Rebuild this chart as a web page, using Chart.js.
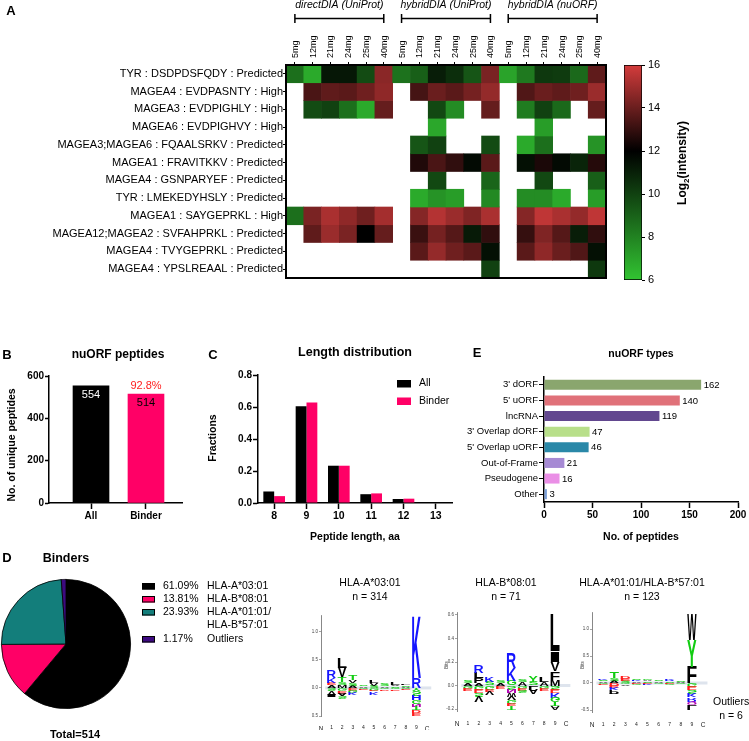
<!DOCTYPE html>
<html><head><meta charset="utf-8">
<script src="https://cdn.jsdelivr.net/npm/chart.js@4.4.1/dist/chart.umd.min.js"></script>
<style>
html,body{margin:0;padding:0;background:#fff;}
#wrap{position:relative;width:749px;height:741px;overflow:hidden;background:#fff;}
canvas{position:absolute;}
</style></head><body><div id="wrap">
<canvas id="cA" width="615" height="290" style="left:0;top:0"></canvas>
<canvas id="cCB" width="134" height="245" style="left:615px;top:50px"></canvas>
<canvas id="cB" width="205" height="205" style="left:0;top:340px"></canvas>
<canvas id="cC" width="265" height="205" style="left:205px;top:340px"></canvas>
<canvas id="cE" width="309" height="205" style="left:440px;top:340px"></canvas>
<canvas id="cD" width="312" height="191" style="left:0;top:550px"></canvas>
<canvas id="cL1" width="130" height="160" style="left:312px;top:570px"></canvas>
<canvas id="cL2" width="133" height="160" style="left:442px;top:570px"></canvas>
<canvas id="cL3" width="174" height="160" style="left:575px;top:570px"></canvas>
</div>
<script>
// ---------------- DATA ----------------
const hmGroups = ['directDIA (UniProt)', 'hybridDIA (UniProt)', 'hybridDIA (nuORF)'];
const hmAmounts = ['5mg', '12mg', '21mg', '24mg', '25mg', '40mg'];
const hmColumns = hmGroups.flatMap(() => hmAmounts);
const hmRows = [
  'TYR : DSDPDSFQDY : Predicted',
  'MAGEA4 : EVDPASNTY : High',
  'MAGEA3 : EVDPIGHLY : High',
  'MAGEA6 : EVDPIGHVY : High',
  'MAGEA3;MAGEA6 : FQAALSRKV : Predicted',
  'MAGEA1 : FRAVITKKV : Predicted',
  'MAGEA4 : GSNPARYEF : Predicted',
  'TYR : LMEKEDYHSLY : Predicted',
  'MAGEA1 : SAYGEPRKL : High',
  'MAGEA12;MAGEA2 : SVFAHPRKL : Predicted',
  'MAGEA4 : TVYGEPRKL : Predicted',
  'MAGEA4 : YPSLREAAL : Predicted'
];
const _ = null;
const hmValues = [
  [8.6, 6.8, 11.3, 11.3, 9.7, 14.6,   8.5, 9.1, 11.1, 10.6, 9.4, 14.3,   7.0, 8.3, 10.3, 10.2, 8.8, 13.8],
  [_, 13.4, 13.8, 13.7, 14.1, 14.7,   _, 13.3, 14.0, 13.7, 14.2, 14.8,   _, 13.5, 14.0, 13.8, 14.1, 14.9],
  [_, 9.7, 10.0, 8.6, 6.8, 13.9,      _, _, 9.8, 7.7, _, 13.9,           _, 8.2, 10.0, 8.8, _, 13.9],
  [_, _, _, _, _, _,                  _, _, 6.9, _, _, _,                _, _, 7.2, _, _, _],
  [_, _, _, _, _, _,                  _, 9.4, 10.0, _, _, 9.7,           _, 6.8, 8.6, _, _, 7.5],
  [_, _, _, _, _, _,                  _, 12.6, 13.4, 12.9, 11.7, 13.7,   _, 11.5, 12.5, 11.7, 10.9, 12.7],
  [_, _, _, _, _, _,                  _, _, 9.8, _, _, 8.9,              _, _, 9.8, _, _, 9.1],
  [_, _, _, _, _, _,                  _, 6.8, 7.5, 7.2, _, 7.8,          _, 7.7, 7.7, 6.8, _, 7.2],
  [8.6, 14.3, 15.2, 14.7, 14.1, 15.1, _, 14.5, 15.4, 14.9, 14.4, 15.2,   _, 14.5, 15.6, 15.2, 14.8, 15.6],
  [_, 13.8, 14.9, 14.3, 12.0, 13.9,   _, 13.1, 14.2, 13.6, 11.2, 12.9,   _, 13.0, 14.4, 13.6, 11.1, 12.9],
  [_, _, _, _, _, _,                  _, 13.7, 14.8, 14.1, 13.7, 11.5,   _, 13.7, 14.7, 14.0, 13.5, 11.5],
  [_, _, _, _, _, _,                  _, _, _, _, _, 10.0,               _, _, _, _, _, 10.3]
];
const cbMin = 6, cbMax = 16, cbStep = 2;
const cbStopValues = [6, 12, 16];
const cbStopColors = [[50, 196, 50], [0, 0, 0], [212, 60, 60]];

const bCategories = ['All', 'Binder'];
const bCounts = [554, 514];
const bColors = ['#000000', '#ff0066'];
const bLabelColors = ['#ffffff', '#000000'];

const cLengths = ['8', '9', '10', '11', '12', '13'];
const cAll = [0.072, 0.605, 0.233, 0.055, 0.025, 0];
const cBinder = [0.043, 0.628, 0.233, 0.060, 0.027, 0];

const eTypes = ["3' dORF", "5' uORF", 'lncRNA', "3' Overlap dORF", "5' Overlap uORF", 'Out-of-Frame', 'Pseudogene', 'Other'];
const eCounts = [162, 140, 119, 47, 46, 21, 16, 3];
const eColors = ['#8aa66e', '#e07179', '#62478f', '#b8df8a', '#2a88a8', '#a68ad4', '#ea8fe6', '#7b9fd8'];

const dLabels = ['HLA-A*03:01', 'HLA-B*08:01', 'HLA-A*01:01/\nHLA-B*57:01', 'Outliers'];
const dPercents = [61.09, 13.81, 23.93, 1.17];
const dColors = ['#000000', '#ff0066', '#137e7b', '#3d0a80'];

const logoTitles = [['HLA-A*03:01', 'n = 314'], ['HLA-B*08:01', 'n = 71'], ['HLA-A*01:01/HLA-B*57:01', 'n = 123']];
const outlierTitle = ['Outliers', 'n = 6'];
const logo1Ticks = [-0.5, 0, 0.5, 1.0];
const logo2Ticks = [-0.2, 0, 0.2, 0.4, 0.6];
const logo3Ticks = [-0.5, 0, 0.5, 1.0];
const logo1Up = [
  [['A', .05], ['E', .04], ['K', .09], ['R', .14]],
  [['M', .05], ['S', .05], ['T', .09], ['V', .17], ['L', .19]],
  [['A', .04], ['S', .05], ['V', .05], ['T', .08]],
  [['A', .03], ['S', .02]],
  [['S', .04], ['V', .04], ['L', .05]],
  [['A', .03], ['S', .04]],
  [['S', .03], ['V', .03], ['L', .05]],
  [['A', .02], ['S', .03], ['L', .03]],
  [['R', .18], ['K', 1.12]]
];
const logo1Down = [
  [['S', .05], ['V', .06], ['I', .04]],
  [['G', .05], ['E', .04], ['A', .05], ['S', .04]],
  [['E', .04], ['G', .04], ['K', .04]],
  [['G', .02], ['E', .02]],
  [['G', .04], ['E', .03], ['K', .04]],
  [['G', .03], ['D', .02]],
  [['G', .03], ['E', .02]],
  [['G', .02], ['E', .02]],
  [['Y', .05], ['S', .08], ['H', .08], ['G', .07], ['N', .05], ['T', .07], ['D', .04], ['E', .05]]
];
const logo2Up = [
  [['A', .02], ['S', .02]],
  [['A', .02], ['P', .04], ['L', .05], ['R', .06]],
  [['S', .03], ['K', .04]],
  [['A', .02], ['S', .02]],
  [['G', .04], ['K', .11], ['R', .13]],
  [['A', .03], ['S', .02]],
  [['S', .03], ['Y', .05]],
  [['A', .03], ['L', .04]],
  [['M', .05], ['F', .07], ['V', .08], ['I', .09], ['L', .31]]
];
const logo2Down = [
  [['G', .02], ['E', .02]],
  [['G', .03], ['E', .03], ['S', .03], ['V', .05]],
  [['G', .03], ['E', .02], ['V', .03]],
  [['E', .02]],
  [['S', .03], ['N', .03], ['W', .03], ['V', .03], ['G', .03], ['E', .02], ['T', .03]],
  [['G', .02], ['E', .02], ['S', .02]],
  [['L', .03], ['A', .04]],
  [['G', .02], ['E', .02]],
  [['S', .03], ['E', .03], ['K', .04], ['G', .04], ['T', .03], ['A', .03]]
];
const logo3Up = [
  [['A', .03], ['S', .03], ['K', .02]],
  [['A', .04], ['S', .05], ['T', .11]],
  [['S', .04], ['E', .04], ['D', .05]],
  [['A', .03], ['K', .03], ['S', .02]],
  [['S', .03], ['A', .03], ['G', .02]],
  [['A', .03], ['S', .02]],
  [['S', .03], ['R', .03], ['K', .03]],
  [['A', .02], ['S', .03]],
  [['F', .30], ['Y', .50], ['W', .46]]
];
const logo3Down = [
  [['G', .02], ['E', .02]],
  [['D', .04], ['E', .04], ['K', .05], ['P', .06], ['L', .03]],
  [['G', .03], ['V', .03]],
  [['E', .02], ['G', .02]],
  [['E', .02], ['K', .02]],
  [['G', .02]],
  [['E', .02], ['G', .02]],
  [['G', .02]],
  [['G', .06], ['E', .07], ['S', .06], ['K', .08], ['R', .06], ['Q', .07], ['L', .10]]
];
const aaColors = {K: '#1515ff', R: '#1515ff', H: '#1515ff', D: '#ff1a1a', E: '#ff1a1a',
  S: '#11cc11', T: '#11cc11', G: '#11cc11', Y: '#11cc11', C: '#11cc11', N: '#b000b0', Q: '#b000b0'};

// ---------------- HELPERS ----------------
const FAM = '"Liberation Sans", Arial, Helvetica, sans-serif';
function fnt(sz, bold, italic) { return (italic ? 'italic ' : '') + (bold ? 'bold ' : '') + sz + 'px ' + FAM; }
Chart.defaults.font.family = FAM;
Chart.defaults.color = '#000';
Chart.defaults.animation = false;
Chart.defaults.plugins.legend.display = false;
Chart.defaults.plugins.tooltip.enabled = false;
Chart.defaults.responsive = false;
Chart.defaults.devicePixelRatio = 1;

function textPlugin(ox, oy, items) {
  return {
    id: 'txt' + Math.random().toString(36).slice(2),
    afterDraw(chart) {
      const ctx = chart.ctx;
      items.forEach(t => {
        ctx.save();
        ctx.font = t.f; ctx.fillStyle = t.c || '#000';
        ctx.textAlign = t.a || 'center'; ctx.textBaseline = 'middle';
        ctx.translate(t.x - ox, t.y - oy);
        if (t.r) ctx.rotate(t.r);
        ctx.fillText(t.t, 0, 0);
        ctx.restore();
      });
    }
  };
}
function rgbStr(c) { return 'rgb(' + c.map(v => Math.round(v)).join(',') + ')'; }
function heatColor(v) {
  if (v == null) return 'rgba(0,0,0,0)';
  v = Math.max(cbMin, Math.min(cbMax, v));
  const i = v <= cbStopValues[1] ? 0 : 1;
  const t = (v - cbStopValues[i]) / (cbStopValues[i + 1] - cbStopValues[i]);
  const a = cbStopColors[i], b = cbStopColors[i + 1];
  return rgbStr(a.map((av, k) => av + (b[k] - av) * t));
}
const axisGrid = (len, w) => ({display: true, drawOnChartArea: false, color: '#000', tickColor: '#000', tickLength: len, tickWidth: w, offset: false});

// ---------------- A: HEATMAP ----------------
const hmDecor = {
  id: 'hmDecor',
  afterDraw(chart) {
    const {ctx, chartArea: ca, scales: {x}} = chart;
    ctx.save();
    ctx.strokeStyle = '#000'; ctx.lineWidth = 2;
    ctx.strokeRect(ca.left, ca.top, ca.width, ca.height);
    ctx.font = fnt(9); ctx.fillStyle = '#000'; ctx.textAlign = 'left'; ctx.textBaseline = 'middle';
    hmColumns.forEach((lab, i) => {
      ctx.save();
      ctx.translate(x.getPixelForValue(i) + 0.5, ca.top - 7);
      ctx.rotate(-Math.PI / 2);
      ctx.fillText(lab, 0, 0);
      ctx.restore();
    });
    ctx.lineWidth = 1.5;
    hmGroups.forEach((g, gi) => {
      const x1 = x.getPixelForValue(gi * hmAmounts.length);
      const x2 = x.getPixelForValue(gi * hmAmounts.length + hmAmounts.length - 1);
      const yb = 18.5;
      ctx.beginPath();
      ctx.moveTo(x1, yb); ctx.lineTo(x2, yb);
      ctx.moveTo(x1, yb - 4.5); ctx.lineTo(x1, yb + 4.5);
      ctx.moveTo(x2, yb - 4.5); ctx.lineTo(x2, yb + 4.5);
      ctx.stroke();
      ctx.font = fnt(10.5, false, true); ctx.fillStyle = '#000';
      ctx.textAlign = 'center'; ctx.textBaseline = 'middle';
      ctx.fillText(g, (x1 + x2) / 2, 5.5);
    });
    ctx.restore();
  }
};
new Chart(document.getElementById('cA'), {
  type: 'bar',
  data: {
    labels: hmColumns,
    datasets: hmRows.map((name, r) => ({
      label: name,
      data: hmValues[r].map(v => v == null ? null : [r, r + 1]),
      backgroundColor: hmValues[r].map(heatColor),
      borderWidth: 0, barPercentage: 1, categoryPercentage: 1, grouped: false
    }))
  },
  options: {
    layout: {padding: {left: 0, top: 0, right: 9, bottom: 12}},
    scales: {
      x: {type: 'category', position: 'top', offset: true,
        grid: axisGrid(3, 1), border: {display: false},
        ticks: {display: false, autoSkip: false},
        afterFit: s => { s.height = 65; }},
      y: {type: 'linear', min: 0, max: hmRows.length, reverse: true,
        afterBuildTicks: s => { s.ticks = hmRows.map((_, i) => ({value: i + 0.5})); },
        ticks: {autoSkip: false, font: {size: 11}, padding: 0, callback: (v, i) => hmRows[i]},
        grid: axisGrid(3, 1), border: {display: false},
        afterFit: s => { s.width = 286; }}
    }
  },
  plugins: [hmDecor, textPlugin(0, 0, [{t: 'A', x: 11, y: 11, f: fnt(13, true)}])]
});

// ---------------- A: COLOUR BAR ----------------
const cbTitle = {
  id: 'cbTitle',
  afterDraw(chart) {
    const ctx = chart.ctx;
    ctx.save();
    ctx.translate(683 - 615, 163 - 50);
    ctx.rotate(-Math.PI / 2);
    ctx.fillStyle = '#000'; ctx.textBaseline = 'middle'; ctx.textAlign = 'left';
    const f1 = fnt(12, true), f2 = fnt(8, true);
    ctx.font = f1; const w1 = ctx.measureText('Log').width, w3 = ctx.measureText('(intensity)').width;
    ctx.font = f2; const w2 = ctx.measureText('2').width;
    let x = -(w1 + w2 + w3) / 2;
    ctx.font = f1; ctx.fillText('Log', x, 0); x += w1;
    ctx.font = f2; ctx.fillText('2', x, 4); x += w2;
    ctx.font = f1; ctx.fillText('(intensity)', x, 0);
    ctx.restore();
  }
};
new Chart(document.getElementById('cCB'), {
  type: 'bar',
  data: {labels: [''], datasets: [{
    data: [[cbMin, cbMax]],
    backgroundColor: c => {
      const ch = c.chart, y = ch.scales.y;
      if (!ch.chartArea || !y) return '#000';
      const g = ch.ctx.createLinearGradient(0, y.getPixelForValue(cbMin), 0, y.getPixelForValue(cbMax));
      cbStopValues.forEach((v, i) => g.addColorStop((v - cbMin) / (cbMax - cbMin), rgbStr(cbStopColors[i])));
      return g;
    },
    borderColor: '#000', borderWidth: 1, borderSkipped: false, barPercentage: 1, categoryPercentage: 1
  }]},
  options: {
    layout: {padding: {left: 9, top: 15, right: 0, bottom: 15}},
    scales: {
      x: {display: false},
      y: {position: 'right', min: cbMin, max: cbMax,
        ticks: {stepSize: cbStep, font: {size: 11}, padding: 3},
        grid: axisGrid(3, 1), border: {display: false},
        afterFit: s => { s.width = 107; }}
    }
  },
  plugins: [cbTitle]
});

// ---------------- B ----------------
const bLabels = {
  id: 'bLabels',
  afterDatasetsDraw(chart) {
    const ctx = chart.ctx, meta = chart.getDatasetMeta(0);
    ctx.save(); ctx.textAlign = 'center'; ctx.textBaseline = 'middle';
    meta.data.forEach((bar, i) => {
      ctx.font = fnt(11); ctx.fillStyle = bLabelColors[i];
      ctx.fillText(String(bCounts[i]), bar.x, bar.y + 9);
      if (i > 0) {
        ctx.fillStyle = '#ff2020';
        ctx.fillText((bCounts[i] / bCounts[0] * 100).toFixed(1) + '%', bar.x, bar.y - 8);
      }
    });
    ctx.restore();
  }
};
new Chart(document.getElementById('cB'), {
  type: 'bar',
  data: {datasets: [{data: bCategories.map((c, i) => ({x: i, y: bCounts[i]})), backgroundColor: bColors, barThickness: 36}]},
  options: {
    layout: {padding: {left: 0, top: 36, right: 23, bottom: 0}},
    scales: {
      x: {type: 'linear', offset: false, min: -0.764, max: 1.655, bounds: 'ticks',
        afterBuildTicks: s => { s.ticks = bCategories.map((_, i) => ({value: i})); },
        ticks: {callback: (v, i) => bCategories[i], font: {size: 10, weight: 'bold'}, padding: 1},
        grid: axisGrid(6, 1.5), border: {color: '#000', width: 1.5},
        afterFit: s => { s.height = 42; }},
      y: {min: 0, max: 600, ticks: {stepSize: 200, font: {size: 10, weight: 'bold'}, padding: 1},
        grid: axisGrid(4, 1.5), border: {color: '#000', width: 1.5},
        afterFit: s => { s.width = 49; }}
    }
  },
  plugins: [bLabels, textPlugin(0, 340, [
    {t: 'B', x: 7, y: 355, f: fnt(13, true)},
    {t: 'nuORF peptides', x: 118, y: 355, f: fnt(12, true)},
    {t: 'No. of unique peptides', x: 12, y: 445, f: fnt(10.5, true), r: -Math.PI / 2}
  ])]
});

// ---------------- C ----------------
const cLegend = {
  id: 'cLegend',
  afterDraw(chart) {
    const ctx = chart.ctx;
    ctx.save(); ctx.textBaseline = 'middle'; ctx.textAlign = 'left'; ctx.font = fnt(10.5);
    chart.data.datasets.forEach((ds, i) => {
      const y = 383.5 + i * 17.5 - 340;
      ctx.fillStyle = ds.backgroundColor;
      ctx.fillRect(397 - 205, y - 3.5, 14, 7.5);
      ctx.fillStyle = '#000';
      ctx.fillText(ds.label, 419 - 205, y);
    });
    ctx.restore();
  }
};
new Chart(document.getElementById('cC'), {
  type: 'bar',
  data: {labels: cLengths, datasets: [
    {label: 'All', data: cAll, backgroundColor: '#000000'},
    {label: 'Binder', data: cBinder, backgroundColor: '#ff0066'}
  ]},
  options: {
    datasets: {bar: {categoryPercentage: 0.67, barPercentage: 1}},
    layout: {padding: {left: 0, top: 35, right: 18, bottom: 0}},
    scales: {
      x: {ticks: {font: {size: 10.5, weight: 'bold'}, padding: 1},
        grid: axisGrid(6, 1.5), border: {color: '#000', width: 1.5},
        afterFit: s => { s.height = 42; }},
      y: {min: 0, max: 0.8, ticks: {stepSize: 0.2, callback: v => v.toFixed(1), font: {size: 10, weight: 'bold'}, padding: 1},
        grid: axisGrid(5, 1.5), border: {color: '#000', width: 1.5},
        afterFit: s => { s.width = 53; }}
    }
  },
  plugins: [cLegend, textPlugin(205, 340, [
    {t: 'C', x: 213, y: 355, f: fnt(13, true)},
    {t: 'Length distribution', x: 355, y: 353, f: fnt(12.5, true)},
    {t: 'Fractions', x: 213, y: 438, f: fnt(10.5, true), r: -Math.PI / 2},
    {t: 'Peptide length, aa', x: 355, y: 537, f: fnt(10.5, true)}
  ])]
});

// ---------------- E ----------------
const eLabels = {
  id: 'eLabels',
  afterDatasetsDraw(chart) {
    const ctx = chart.ctx, meta = chart.getDatasetMeta(0);
    ctx.save(); ctx.textAlign = 'left'; ctx.textBaseline = 'middle'; ctx.font = fnt(9.5); ctx.fillStyle = '#000';
    meta.data.forEach((bar, i) => ctx.fillText(String(eCounts[i]), bar.x + 2.5, bar.y + 0.5));
    ctx.restore();
  }
};
new Chart(document.getElementById('cE'), {
  type: 'bar',
  data: {labels: eTypes, datasets: [{data: eCounts, backgroundColor: eColors, barPercentage: 0.64, categoryPercentage: 1}]},
  options: {
    indexAxis: 'y',
    layout: {padding: {left: 0, top: 37, right: 11, bottom: 0}},
    scales: {
      x: {min: 0, max: 200, ticks: {stepSize: 50, font: {size: 10, weight: 'bold'}, padding: 1},
        grid: axisGrid(6, 1.5), border: {color: '#000', width: 1.5},
        afterFit: s => { s.height = 43; }},
      y: {ticks: {font: {size: 9.5}, padding: 1, autoSkip: false},
        grid: axisGrid(5, 1), border: {color: '#000', width: 1.5},
        afterFit: s => { s.width = 104; }}
    }
  },
  plugins: [eLabels, textPlugin(440, 340, [
    {t: 'E', x: 477, y: 353, f: fnt(13, true)},
    {t: 'nuORF types', x: 641, y: 354, f: fnt(10.5, true)},
    {t: 'No. of peptides', x: 641, y: 537, f: fnt(10.5, true)}
  ])]
});

// ---------------- D: PIE ----------------
const dLegend = {
  id: 'dLegend',
  afterDraw(chart) {
    const ctx = chart.ctx, oy = 550;
    ctx.save(); ctx.textBaseline = 'middle'; ctx.textAlign = 'left'; ctx.font = fnt(10.5);
    let y = 586;
    dLabels.forEach((lab, i) => {
      ctx.fillStyle = dColors[i];
      ctx.fillRect(142, y - oy - 3, 13, 6.5);
      ctx.strokeStyle = '#000'; ctx.lineWidth = 1;
      ctx.strokeRect(142.5, y - oy - 2.5, 12, 5.5);
      ctx.fillStyle = '#000';
      ctx.fillText(dPercents[i].toFixed(2) + '%', 163, y - oy);
      const lines = lab.split('\n');
      lines.forEach((ln, k) => ctx.fillText(ln, 207, y - oy + k * 13.5));
      y += 13 + (lines.length - 1) * 14;
    });
    ctx.restore();
  }
};
new Chart(document.getElementById('cD'), {
  type: 'pie',
  data: {labels: dLabels, datasets: [{data: dPercents, backgroundColor: dColors, borderColor: '#000', borderWidth: 0.8}]},
  options: {layout: {padding: {left: 1, top: 29, right: 181, bottom: 32}}},
  plugins: [dLegend, textPlugin(0, 550, [
    {t: 'D', x: 7, y: 558, f: fnt(13, true)},
    {t: 'Binders', x: 66, y: 559, f: fnt(12.5, true)},
    {t: 'Total=' + bCounts[1], x: 75, y: 735, f: fnt(11, true)}
  ])]
});

// ---------------- D: LOGOS ----------------
function drawLetter(ctx, ch, x0, x1, yTop, yBot, flip) {
  if (yBot - yTop < 0.3) return;
  ctx.save();
  ctx.font = 'bold 100px ' + FAM;
  const m = ctx.measureText(ch);
  const w = m.actualBoundingBoxRight + m.actualBoundingBoxLeft;
  const h = m.actualBoundingBoxAscent + m.actualBoundingBoxDescent;
  ctx.fillStyle = aaColors[ch] || '#000';
  ctx.translate(x0, flip ? yTop : yBot);
  ctx.scale((x1 - x0) / w, (flip ? -1 : 1) * (yBot - yTop) / h);
  ctx.fillText(ch, m.actualBoundingBoxLeft, -m.actualBoundingBoxDescent);
  ctx.restore();
}
function logoPlugin(up, down) {
  return {
    id: 'logo' + Math.random().toString(36).slice(2),
    afterDatasetsDraw(chart) {
      const {ctx, scales: {x, y}} = chart;
      const y0 = y.getPixelForValue(0);
      ctx.save();
      ctx.fillStyle = 'rgba(195,205,222,0.55)';
      ctx.fillRect(x.getPixelForValue(0.4), y0 - 1.5, x.getPixelForValue(10.4) - x.getPixelForValue(0.4), 3);
      ctx.restore();
      up.forEach((stack, i) => {
        const p = i + 1, xa = x.getPixelForValue(p - 0.42), xb = x.getPixelForValue(p + 0.42);
        let base = 0;
        stack.forEach(([ch, h]) => { drawLetter(ctx, ch, xa, xb, y.getPixelForValue(base + h), y.getPixelForValue(base), false); base += h; });
      });
      down.forEach((stack, i) => {
        const p = i + 1, xa = x.getPixelForValue(p - 0.42), xb = x.getPixelForValue(p + 0.42);
        let base = 0;
        stack.forEach(([ch, h]) => { drawLetter(ctx, ch, xa, xb, y.getPixelForValue(base), y.getPixelForValue(base - h), true); base -= h; });
      });
    }
  };
}
function makeLogo(id, up, down, yMin, yMax, yTicks, pad, yW, xH, ox, oy, texts) {
  new Chart(document.getElementById(id), {
    type: 'scatter',
    data: {datasets: [{data: []}]},
    options: {
      layout: {padding: pad},
      scales: {
        x: {type: 'linear', min: 0, max: 10,
          afterBuildTicks: s => { s.ticks = Array.from({length: 11}, (_, i) => ({value: i})); },
          ticks: {callback: v => v === 0 ? 'N' : v === 10 ? 'C' : String(v), font: c => ({size: (c.tick && (c.tick.value === 0 || c.tick.value === 10)) ? 6.5 : 5}), padding: 1, autoSkip: false, maxRotation: 0, color: '#222'},
          grid: {display: false}, border: {display: false},
          afterFit: s => { s.height = xH; }},
        y: {type: 'linear', min: yMin, max: yMax,
          afterBuildTicks: s => { s.ticks = yTicks.map(v => ({value: v})); },
          ticks: {callback: v => v.toFixed(1), font: {size: 4.5}, padding: 1, color: '#444'},
          grid: {display: true, drawOnChartArea: false, color: '#666', tickLength: 2, tickWidth: 0.6},
          border: {display: true, color: '#555', width: 0.7},
          afterFit: s => { s.width = yW; }}
      }
    },
    plugins: [logoPlugin(up, down), textPlugin(ox, oy, texts)]
  });
}
makeLogo('cL1', logo1Up, logo1Down, -0.5, 1.3, logo1Ticks, {left: 0, top: 45, right: 15, bottom: 0}, 9, 14, 312, 570, [
  {t: logoTitles[0][0], x: 370, y: 583, f: fnt(10.5)},
  {t: logoTitles[0][1], x: 370, y: 597, f: fnt(10.5)}
]);
makeLogo('cL2', logo2Up, logo2Down, -0.22, 0.62, logo2Ticks, {left: 0, top: 42.6, right: 9, bottom: 0}, 15, 18.6, 442, 570, [
  {t: logoTitles[1][0], x: 506, y: 583, f: fnt(10.5)},
  {t: logoTitles[1][1], x: 506, y: 597, f: fnt(10.5)},
  {t: 'Bits', x: 447, y: 665, f: fnt(4.5), c: '#444', r: -Math.PI / 2}
]);
makeLogo('cL3', logo3Up, logo3Down, -0.55, 1.3, logo3Ticks, {left: 0, top: 42.8, right: 46, bottom: 0}, 17, 17.3, 575, 570, [
  {t: logoTitles[2][0], x: 642, y: 583, f: fnt(10.5)},
  {t: logoTitles[2][1], x: 642, y: 597, f: fnt(10.5)},
  {t: 'Bits', x: 583, y: 665, f: fnt(4.5), c: '#444', r: -Math.PI / 2},
  {t: outlierTitle[0], x: 713, y: 702, f: fnt(10.5), a: 'left'},
  {t: outlierTitle[1], x: 731, y: 716, f: fnt(10.5)}
]);
</script></body></html>
